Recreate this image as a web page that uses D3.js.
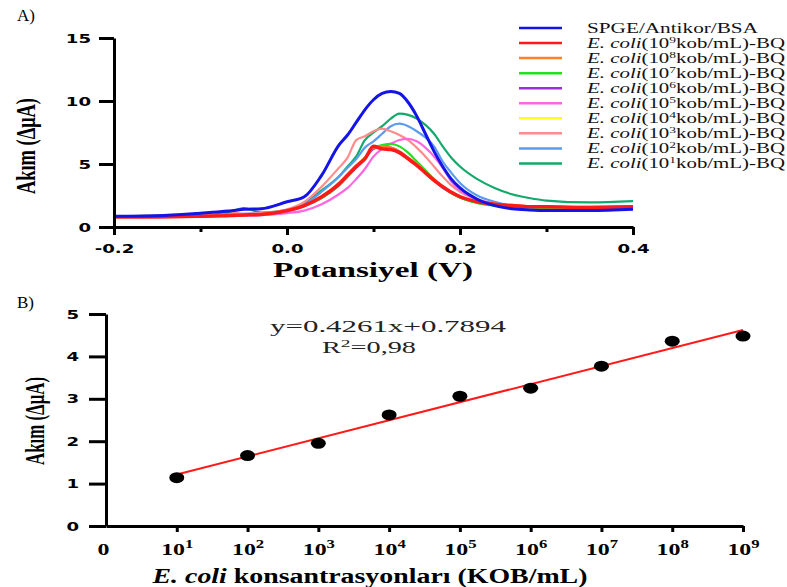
<!DOCTYPE html>
<html>
<head>
<meta charset="utf-8">
<script src="https://cdn.jsdelivr.net/npm/d3@7"></script>
<style>
  body { margin: 0; background: #fff; }
  svg { display: block; }
</style>
</head>
<body>
<div id="chart"></div>
<script>
// ---- data ----
var potential = [-0.2, -0.15, -0.1, -0.07, -0.05, -0.03, 0, 0.02, 0.04, 0.06, 0.07, 0.08, 0.09, 0.1, 0.11, 0.12,
                 0.13, 0.14, 0.15, 0.16, 0.17, 0.18, 0.19, 0.2, 0.22, 0.24, 0.26, 0.28, 0.3, 0.35, 0.4];

var seriesNames = ["SPGE/Antikor/BSA", "9", "8", "7", "6", "5", "4", "3", "2", "1"];
var seriesColors = ["#1414e6", "#ff1a1a", "#ff7f2a", "#22e022", "#9b30d9", "#ff66e0", "#ffff1a", "#ff8c8c", "#5a9cf0", "#12aa6a"];

var cSPGE = [0.85, 0.9, 1.1, 1.25, 1.4, 1.45, 2.0, 2.4, 4.1, 6.5, 7.3, 8.3, 9.3, 10.1, 10.6, 10.75,
             10.6, 9.9, 8.8, 7.4, 6.0, 4.8, 3.8, 3.1, 2.2, 1.7, 1.45, 1.35, 1.3, 1.3, 1.4];
var c1e9 = [0.8, 0.8, 0.85, 0.9, 0.95, 1.0, 1.3, 1.7, 2.4, 3.4, 4.1, 4.8, 5.4, 6.4, 6.2, 6.15,
            5.9, 5.4, 4.9, 4.3, 3.7, 3.2, 2.75, 2.4, 2.0, 1.8, 1.7, 1.6, 1.6, 1.55, 1.6];
var c1e8 = [0.8, 0.8, 0.85, 0.9, 0.95, 1.0, 1.3, 1.7, 2.4, 3.5, 4.2, 4.9, 5.5, 6.3, 6.4, 6.3,
            6.0, 5.5, 5.0, 4.4, 3.8, 3.2, 2.8, 2.45, 2.05, 1.85, 1.75, 1.65, 1.6, 1.6, 1.65];
var c1e7 = [0.8, 0.8, 0.85, 0.9, 0.95, 1.0, 1.3, 1.7, 2.3, 3.3, 4.0, 4.8, 5.5, 6.3, 6.5, 6.6,
            6.4, 5.9, 5.2, 4.5, 3.8, 3.2, 2.7, 2.35, 1.9, 1.7, 1.6, 1.55, 1.5, 1.5, 1.55];
var c1e6 = [0.8, 0.8, 0.85, 0.9, 0.95, 1.0, 1.25, 1.65, 2.3, 3.3, 4.0, 4.7, 5.4, 6.2, 6.4, 6.3,
            6.0, 5.5, 4.9, 4.3, 3.7, 3.1, 2.7, 2.35, 1.95, 1.75, 1.65, 1.6, 1.55, 1.5, 1.55];
var c1e5 = [0.8, 0.8, 0.85, 0.9, 0.9, 0.95, 1.1, 1.3, 1.8, 2.6, 3.1, 3.8, 4.6, 5.6, 6.2, 6.6,
            6.9, 7.0, 6.8, 6.3, 5.6, 4.7, 3.6, 2.9, 2.2, 1.85, 1.7, 1.65, 1.6, 1.55, 1.6];
var c1e4 = [0.8, 0.8, 0.85, 0.9, 0.95, 1.0, 1.3, 1.7, 2.35, 3.4, 4.1, 4.8, 5.4, 6.2, 6.3, 6.2,
            5.9, 5.4, 4.9, 4.3, 3.7, 3.1, 2.7, 2.35, 1.95, 1.75, 1.65, 1.6, 1.55, 1.55, 1.6];
var c1e3 = [0.85, 0.9, 0.95, 1.3, 1.05, 1.1, 1.4, 2.0, 3.2, 4.7, 5.5, 6.9, 7.2, 7.6, 7.8, 7.6,
            7.3, 6.9, 6.3, 5.6, 4.8, 4.0, 3.3, 2.8, 2.2, 1.85, 1.7, 1.6, 1.55, 1.5, 1.6];
var c1e2 = [0.85, 0.9, 0.95, 1.0, 1.05, 1.1, 1.3, 1.8, 2.8, 4.0, 4.7, 5.4, 6.3, 6.8, 7.4, 8.0,
            8.2, 8.0, 7.6, 7.1, 6.4, 5.2, 4.3, 3.5, 2.5, 2.0, 1.7, 1.6, 1.5, 1.5, 1.6];
var c1e1 = [0.85, 0.9, 0.95, 1.1, 1.5, 1.15, 1.35, 1.9, 2.9, 4.0, 4.8, 5.6, 6.9, 7.5, 8.0, 8.6,
            9.0, 8.9, 8.6, 8.1, 7.4, 6.4, 5.5, 4.8, 3.8, 3.1, 2.6, 2.3, 2.1, 1.95, 2.05];

// calibration (panel B)
var logConc = [1, 2, 3, 4, 5, 6, 7, 8, 9];
var deltaCurrent = [1.14, 1.66, 1.95, 2.62, 3.06, 3.25, 3.77, 4.36, 4.48];
var fitSlope = 0.4261, fitIntercept = 0.7894;

var serif = "'Liberation Serif', 'Times New Roman', serif";

var svg = d3.select("#chart").append("svg")
    .attr("width", 787)
    .attr("height", 587)
    .style("background", "#fff");

// the source figure is stretched sideways, so stretch the labels too
function widen(sel, factor) {
  sel.each(function() {
    var w = this.getComputedTextLength();
    d3.select(this).attr("textLength", w * factor).attr("lengthAdjust", "spacingAndGlyphs");
  });
}

function styleTicks(a) {
  a.selectAll(".tick text")
    .attr("fill", "#000")
    .style("font-family", "'DejaVu Sans', sans-serif")
    .style("font-weight", "bold")
    .style("font-size", "12.5px");
  widen(a.selectAll(".tick text"), 1.45);
  a.select(".domain").attr("stroke-width", 3);
  a.selectAll(".tick line").attr("stroke-width", 3);
}

function drawVoltammograms(){
  var allCurves = [cSPGE, c1e9, c1e8, c1e7, c1e6, c1e5, c1e4, c1e3, c1e2, c1e1];

  var x = d3.scaleLinear().domain([-0.2, 0.4]).range([114, 633]);
  var y = d3.scaleLinear().domain([0, 15]).range([227, 38]);

  var g = svg.append("g");

  // lines, drawn so that blue and red end on top
  var order = [9, 8, 7, 6, 5, 4, 3, 2, 1, 0];
  var line = d3.line()
      .x(function(d, i) { return x(potential[i]); })
      .y(function(d) { return y(d); })
      .curve(d3.curveMonotoneX);

  g.selectAll("path.curve")
    .data(order)
    .enter()
    .append("path")
    .attr("class", "curve")
    .attr("fill", "none")
    .attr("stroke", function(k) { return seriesColors[k]; })
    .attr("stroke-width", function(k) { return k == 0 ? 3 : (k == 1 ? 3.5 : 2.2); })
    .attr("stroke-linejoin", "round")
    .attr("d", function(k) { return line(allCurves[k]); });

  // axes
  var yAxis = g.append("g")
      .attr("transform", "translate(114,0)")
      .call(d3.axisLeft(y).tickValues([0, 5, 10, 15]).tickSize(15).tickSizeOuter(0).tickPadding(8));

  var majors = [-0.2, 0, 0.2, 0.4];
  var isMajor = function(d) { return majors.some(function(m) { return Math.abs(m - d) < 1e-9; }); };
  var xAxis = g.append("g")
      .attr("transform", "translate(0,227)")
      .call(d3.axisBottom(x).tickValues([-0.2, -0.1, 0, 0.1, 0.2, 0.3, 0.4])
        .tickSize(8).tickSizeOuter(0).tickPadding(9)
        .tickFormat(function(d) { return isMajor(d) ? d3.format(".1f")(d).replace("\u2212", "-") : ""; }));
  xAxis.selectAll(".tick line").filter(function(d) { return !isMajor(d); }).attr("y2", 5);

  styleTicks(yAxis);
  styleTicks(xAxis);

  // titles
  g.append("text")
    .attr("x", 373).attr("y", 277)
    .attr("text-anchor", "middle")
    .attr("textLength", 200).attr("lengthAdjust", "spacingAndGlyphs")
    .style("font-family", serif).style("font-weight", "bold").style("font-size", "20px")
    .text("Potansiyel (V)");

  g.append("text")
    .attr("transform", "translate(35,146) rotate(-90)")
    .attr("text-anchor", "middle")
    .attr("textLength", 96).attr("lengthAdjust", "spacingAndGlyphs")
    .style("font-family", serif).style("font-weight", "bold").style("font-size", "28px")
    .text("Akım (ΔμA)");

  g.append("text")
    .attr("x", 17).attr("y", 21)
    .style("font-family", serif).style("font-size", "17px")
    .text("A)");

  // legend
  var legend = g.selectAll("g.legend")
    .data(seriesNames)
    .enter()
    .append("g")
    .attr("class", "legend")
    .attr("transform", function(d, i) { return "translate(0," + (28 + i * 15.05) + ")"; });

  legend.append("line")
    .attr("x1", 519).attr("x2", 562)
    .attr("stroke", function(d, i) { return seriesColors[i]; })
    .attr("stroke-width", 2.5);

  var lt = legend.append("text")
    .attr("x", 587).attr("y", 4.5)
    .attr("textLength", function(d, i) { return i == 0 ? 171 : 198; })
    .attr("lengthAdjust", "spacingAndGlyphs")
    .style("font-family", serif).style("font-size", "14px").style("fill", "#111");

  lt.each(function(d, i) {
    var t = d3.select(this);
    if (i == 0) { t.text(d); return; }
    t.append("tspan").style("font-style", "italic").text("E. coli");
    t.append("tspan").text("(10");
    t.append("tspan").attr("dy", -5).style("font-size", "9px").text(d);
    t.append("tspan").attr("dy", 5).text("kob/mL)-BQ");
  });
}

function drawCalibration(){
  var x = d3.scaleLinear().domain([0, 9]).range([106, 743]);
  var y = d3.scaleLinear().domain([0, 5]).range([526, 314]);

  var g = svg.append("g");

  var yAxis = g.append("g")
      .attr("transform", "translate(106,0)")
      .call(d3.axisLeft(y).ticks(5).tickSize(17).tickSizeOuter(0).tickPadding(10));
  styleTicks(yAxis);

  var xAxis = g.append("g")
      .attr("transform", "translate(0,526)")
      .call(d3.axisBottom(x).tickValues(d3.range(0, 10)).tickSize(6).tickSizeOuter(0).tickFormat(""));
  xAxis.selectAll(".tick").filter(function(d) { return d == 0; }).select("line").remove();
  xAxis.select(".domain").attr("stroke-width", 3);
  xAxis.selectAll(".tick line").attr("stroke-width", 3);

  // x tick labels with exponent
  var lab = xAxis.selectAll(".tick").append("text")
    .attr("y", 29)
    .attr("fill", "#000")
    .attr("text-anchor", "middle")
    .style("font-family", serif).style("font-weight", "bold").style("font-size", "16.5px");
  lab.each(function(d) {
    var t = d3.select(this);
    if (d == 0) { t.attr("dx", -3).text("0"); return; }
    t.append("tspan").text("10");
    t.append("tspan").attr("dy", -7).style("font-size", "11.5px").text(d);
  });
  widen(lab, 1.45);

  // regression line
  g.append("line")
    .attr("x1", x(1)).attr("y1", y(fitSlope * 1 + fitIntercept))
    .attr("x2", x(9)).attr("y2", y(fitSlope * 9 + fitIntercept))
    .attr("stroke", "#ff1a1a").attr("stroke-width", 2);

  g.selectAll("ellipse.pt")
    .data(logConc)
    .enter()
    .append("ellipse")
    .attr("class", "pt")
    .attr("cx", function(d) { return x(d); })
    .attr("cy", function(d, i) { return y(deltaCurrent[i]); })
    .attr("rx", 7.5).attr("ry", 5.5)
    .attr("fill", "#000");

  // equation
  g.append("text")
    .attr("x", 270).attr("y", 332)
    .attr("textLength", 236).attr("lengthAdjust", "spacingAndGlyphs")
    .style("font-family", serif).style("font-size", "16px").style("fill", "#222")
    .text("y=0.4261x+0.7894");
  var r2 = g.append("text")
    .attr("x", 322).attr("y", 353)
    .attr("textLength", 94).attr("lengthAdjust", "spacingAndGlyphs")
    .style("font-family", serif).style("font-size", "16px").style("fill", "#222");
  r2.append("tspan").text("R");
  r2.append("tspan").attr("dy", -6).style("font-size", "11px").text("2");
  r2.append("tspan").attr("dy", 6).text("=0,98");

  // titles
  var xt = g.append("text")
    .attr("x", 370).attr("y", 583)
    .attr("text-anchor", "middle")
    .attr("textLength", 435).attr("lengthAdjust", "spacingAndGlyphs")
    .style("font-family", serif).style("font-weight", "bold").style("font-size", "20px");
  xt.append("tspan").style("font-style", "italic").text("E. coli");
  xt.append("tspan").text(" konsantrasyonları (KOB/mL)");

  g.append("text")
    .attr("transform", "translate(44,421) rotate(-90)")
    .attr("text-anchor", "middle")
    .attr("textLength", 88).attr("lengthAdjust", "spacingAndGlyphs")
    .style("font-family", serif).style("font-weight", "bold").style("font-size", "28px")
    .text("Akım (ΔμA)");

  g.append("text")
    .attr("x", 17).attr("y", 308)
    .style("font-family", serif).style("font-size", "17px")
    .text("B)");
}

drawVoltammograms();
drawCalibration();
</script>
</body>
</html>
